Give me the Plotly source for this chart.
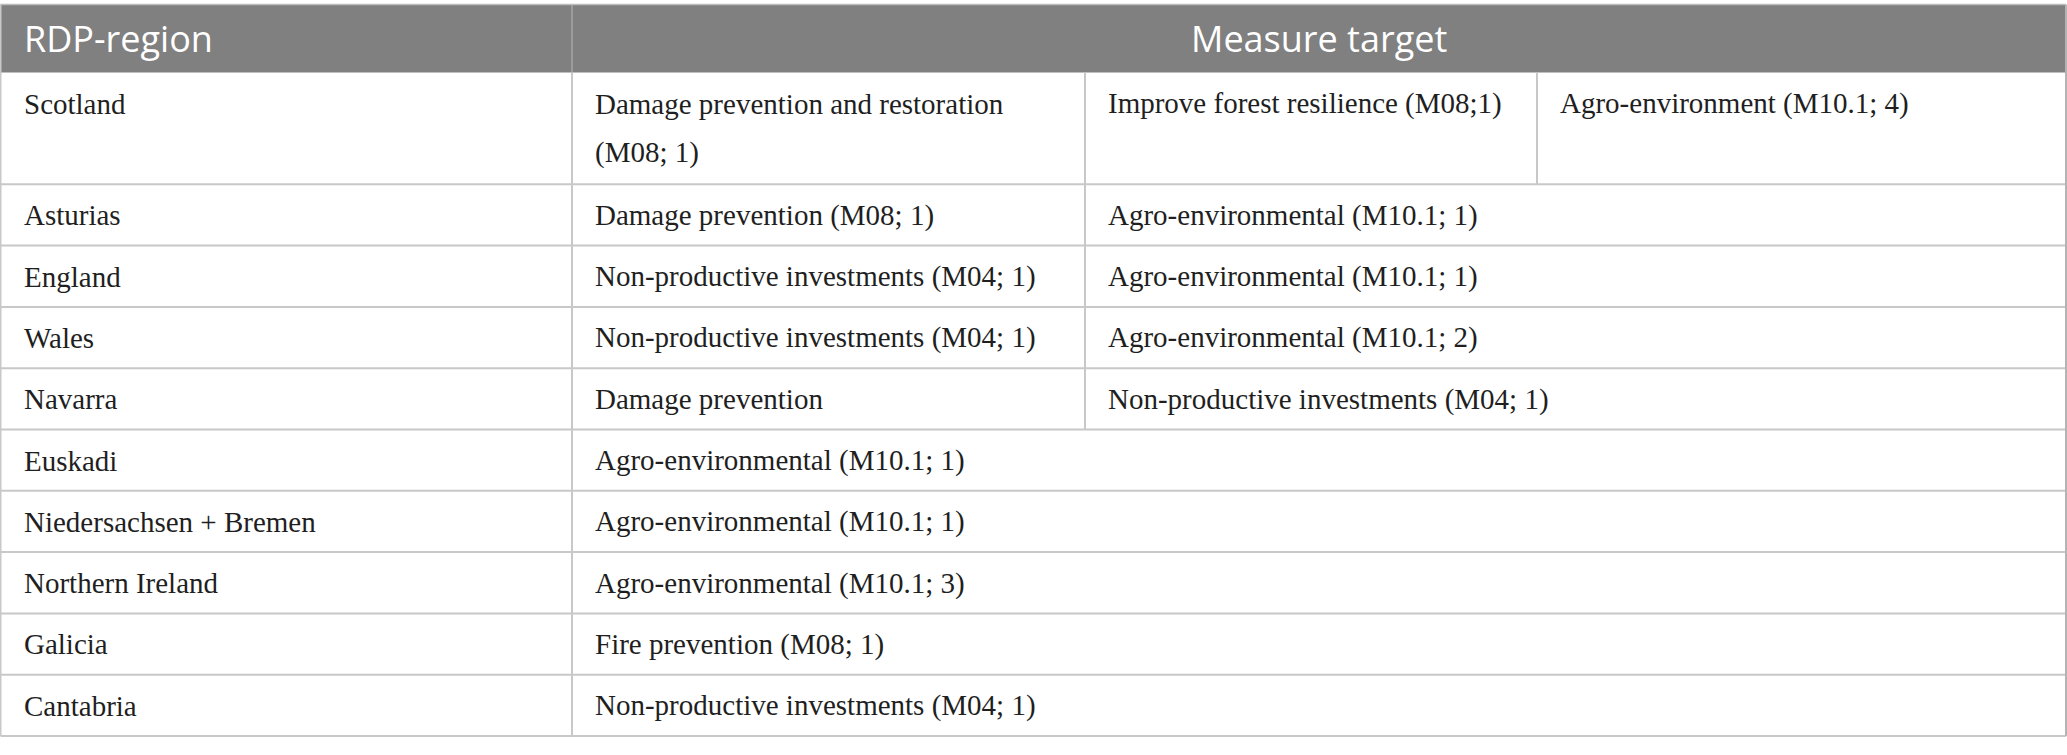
import plotly.graph_objects as go

# table content
header_left = "RDP-region"
header_right = "Measure target"

regions = ["Scotland", "Asturias", "England", "Wales", "Navarra", "Euskadi",
           "Niedersachsen + Bremen", "Northern Ireland", "Galicia", "Cantabria"]

# measure targets per region (\n = line break inside the cell)
measures = [
    ["Damage prevention and restoration\n(M08; 1)", "Improve forest resilience (M08;1)", "Agro-environment (M10.1; 4)"],
    ["Damage prevention (M08; 1)", "Agro-environmental (M10.1; 1)"],
    ["Non-productive investments (M04; 1)", "Agro-environmental (M10.1; 1)"],
    ["Non-productive investments (M04; 1)", "Agro-environmental (M10.1; 2)"],
    ["Damage prevention", "Non-productive investments (M04; 1)"],
    ["Agro-environmental (M10.1; 1)"],
    ["Agro-environmental (M10.1; 1)"],
    ["Agro-environmental (M10.1; 3)"],
    ["Fire prevention (M08; 1)"],
    ["Non-productive investments (M04; 1)"],
]

# layout (pixels)
W, H = 2067, 755
col_edges = [0.5, 572, 1085, 1537, 2066]
top, head_bottom = 4.5, 72.5
line_h = 49
first_line = 31   # centre of first text line below the cell top
pad_x = 21
HEAD_BG = "#808080"
GRID = "#c8c8c8"
TEXT = "#1f1f1f"
SERIF = "Liberation Serif, Times New Roman, serif"
SANS = "Open Sans, Lato, sans-serif"

fig = go.Figure()
shapes = []
annos = []

# header
shapes.append(dict(type="rect", x0=col_edges[0], x1=col_edges[-1], y0=top, y1=head_bottom,
                   fillcolor=HEAD_BG, line=dict(width=0), layer="below"))
shapes.append(dict(type="line", x0=col_edges[1], x1=col_edges[1], y0=top, y1=head_bottom,
                   line=dict(color="#a6a6a6", width=1.5)))
annos.append(dict(x=col_edges[0] + pad_x, y=(top + head_bottom) / 2, text=header_left,
                  xanchor="left", yanchor="middle", font=dict(family=SANS, size=36, color="white")))
annos.append(dict(x=(col_edges[1] + col_edges[-1]) / 2, y=(top + head_bottom) / 2, text=header_right,
                  xanchor="center", yanchor="middle", font=dict(family=SANS, size=36, color="white")))

spans = {1: [3], 2: [1, 2], 3: [1, 1, 1]}


def put_text(x_left, y0, txt):
    for j, ln in enumerate(txt.split("\n")):
        annos.append(dict(x=x_left + pad_x, y=y0 + first_line + j * line_h, text=ln,
                          xanchor="left", yanchor="middle",
                          font=dict(family=SERIF, size=29, color=TEXT)))


y = head_bottom
for region, cells in zip(regions, measures):
    n_lines = max(c.count("\n") + 1 for c in cells)
    y_next = y + 12.3 + line_h * n_lines + (1.5 if n_lines > 1 else 0)
    # region cell
    put_text(col_edges[0], y, region)
    shapes.append(dict(type="line", x0=col_edges[1], x1=col_edges[1], y0=y, y1=y_next,
                       line=dict(color=GRID, width=2)))
    # measure cells
    c = 1
    for txt, sp in zip(cells, spans[len(cells)]):
        put_text(col_edges[c], y, txt)
        c += sp
        if c < len(col_edges) - 1:
            shapes.append(dict(type="line", x0=col_edges[c], x1=col_edges[c], y0=y, y1=y_next,
                               line=dict(color=GRID, width=2)))
    # bottom rule
    shapes.append(dict(type="line", x0=col_edges[0], x1=col_edges[-1], y0=y_next, y1=y_next,
                       line=dict(color=GRID, width=2)))
    y = y_next

# outer frame
shapes.append(dict(type="line", x0=col_edges[0], x1=col_edges[0], y0=top, y1=y,
                   line=dict(color=GRID, width=2)))
shapes.append(dict(type="line", x0=col_edges[-1], x1=col_edges[-1], y0=top, y1=y,
                   line=dict(color="#b4b4b4", width=2)))
shapes.append(dict(type="line", x0=col_edges[0], x1=col_edges[-1], y0=top, y1=top,
                   line=dict(color="#bdbdbd", width=1.5)))

fig.update_layout(
    width=W, height=H,
    margin=dict(l=0, r=0, t=0, b=0),
    paper_bgcolor="white", plot_bgcolor="white",
    xaxis=dict(range=[0, W], visible=False, fixedrange=True),
    yaxis=dict(range=[H, 0], visible=False, fixedrange=True),
    shapes=shapes,
    annotations=annos,
    showlegend=False,
)
for a in fig.layout.annotations:
    a.showarrow = False

fig.write_html("out.html", config={"displayModeBar": False},
               post_script="document.body.style.margin='0';")
